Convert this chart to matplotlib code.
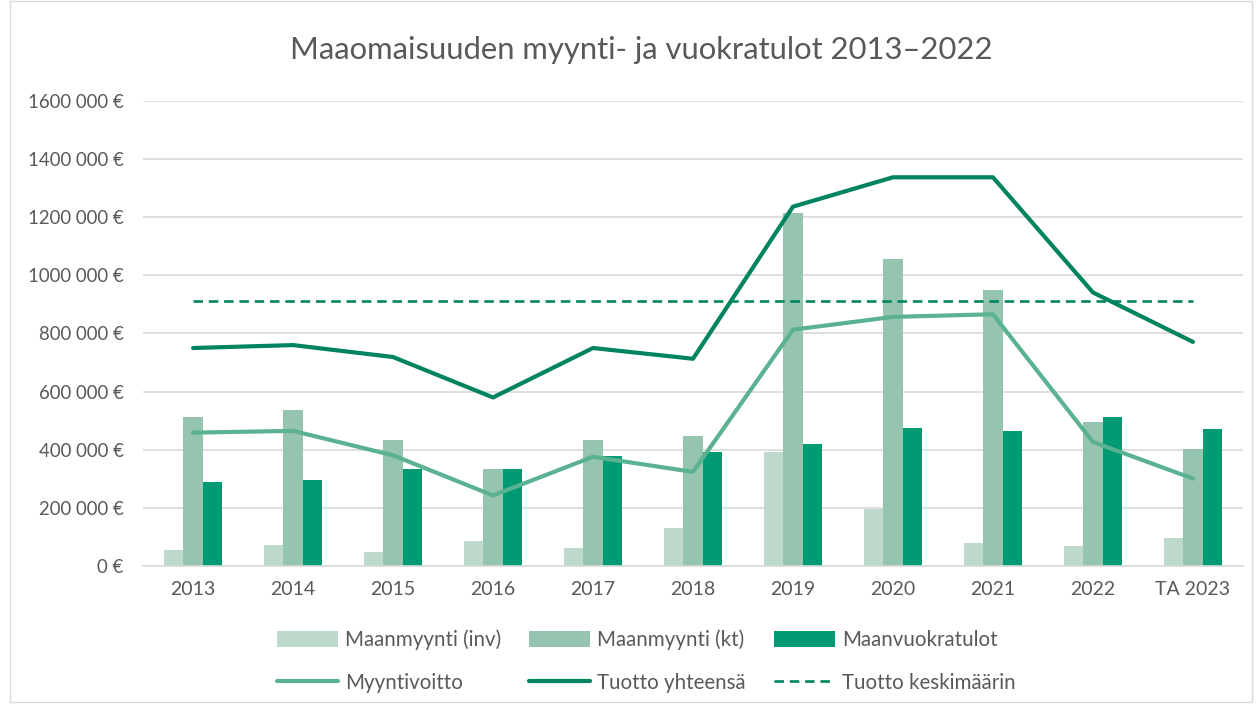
import matplotlib.pyplot as plt
import numpy as np
from matplotlib.patches import Rectangle

plt.rcParams['font.family'] = ['Lato', 'DejaVu Sans']

years = ['2013', '2014', '2015', '2016', '2017', '2018', '2019', '2020', '2021', '2022', 'TA 2023']
maanmyynti_inv = [57000, 74000, 50000, 85000, 61000, 130000, 392000, 198000, 80000, 69000, 98000]
maanmyynti_kt = [513000, 536000, 432000, 333000, 433000, 449000, 1213000, 1056000, 951000, 496000, 401000]
maanvuokratulot = [289000, 297000, 333000, 333000, 378000, 392000, 421000, 476000, 465000, 513000, 470000]
myyntivoitto = [459000, 465000, 381000, 243000, 376000, 324000, 813000, 857000, 866000, 427000, 301000]
tuotto_yht = [750000, 760000, 719000, 580000, 750000, 713000, 1236000, 1337000, 1337000, 941000, 771000]
tuotto_ka = [911000] * 11

y_ticks = [0, 200000, 400000, 600000, 800000, 1000000, 1200000, 1400000, 1600000]
y_labels = ['0 €', '200 000 €', '400 000 €', '600 000 €', '800 000 €', '1000 000 €',
            '1200 000 €', '1400 000 €', '1600 000 €']

c_inv = '#bdd9cb'
c_kt = '#95c4af'
c_rent = '#009b74'
c_mv = '#5bb291'
c_ty = '#00845f'
c_text = '#595959'

fig = plt.figure(figsize=(12.57, 7.05), dpi=100)
ax = fig.add_axes([0.1138, 0.197, 0.875, 0.66])

x = np.arange(len(years))
w = 0.193
b1 = ax.bar(x - w, maanmyynti_inv, w, color=c_inv, zorder=2, label='Maanmyynti (inv)')
b2 = ax.bar(x, maanmyynti_kt, w, color=c_kt, zorder=2, label='Maanmyynti (kt)')
b3 = ax.bar(x + w, maanvuokratulot, w, color=c_rent, zorder=2, label='Maanvuokratulot')
l1, = ax.plot(x, myyntivoitto, color=c_mv, lw=3.0, zorder=3, solid_capstyle='round',
              solid_joinstyle='round', label='Myyntivoitto')
l2, = ax.plot(x, tuotto_yht, color=c_ty, lw=3.0, zorder=4, solid_capstyle='round',
              solid_joinstyle='round', label='Tuotto yhteensä')
l3, = ax.plot(x, tuotto_ka, color=c_ty, lw=1.9, ls=(0, (3.6, 2.2)), zorder=4,
              label='Tuotto keskimäärin')

ax.set_xlim(-0.5, len(years) - 0.5)
ax.set_ylim(0, 1600000)
ax.set_yticks(y_ticks)
ax.set_yticklabels(y_labels)
ax.set_xticks(x)
ax.set_xticklabels(years)
ax.tick_params(axis='both', length=0, colors=c_text)
ax.tick_params(axis='x', pad=11, labelsize=14)
ax.tick_params(axis='y', pad=14, labelsize=13.4)
ax.grid(axis='y', color='#d9d9d9', lw=1.2, zorder=0)
ax.set_axisbelow(True)
for s in ['top', 'right', 'left']:
    ax.spines[s].set_visible(False)
ax.spines['bottom'].set_color('#d9d9d9')
ax.spines['bottom'].set_linewidth(1.2)

fig.text(0.5105, 0.929, 'Maaomaisuuden myynti- ja vuokratulot 2013–2022', ha='center', va='center',
         fontsize=22.3, color=c_text)

handles = [b1, l1, b2, l2, b3, l3]
leg = fig.legend(handles=handles, labels=[h.get_label() for h in handles], ncol=3,
                 loc='center', bbox_to_anchor=(0.514, 0.062), frameon=False, fontsize=14.8,
                 handlelength=2.97, handleheight=0.8, handletextpad=0.34, columnspacing=1.37,
                 labelspacing=1.1, borderpad=0)
for t in leg.get_texts():
    t.set_color(c_text)

fig.patches.append(Rectangle((0.008, 0.004), 0.988, 0.994, transform=fig.transFigure,
                             fill=False, edgecolor='#d9d9d9', lw=1))

fig.savefig('out.png', dpi=100)
